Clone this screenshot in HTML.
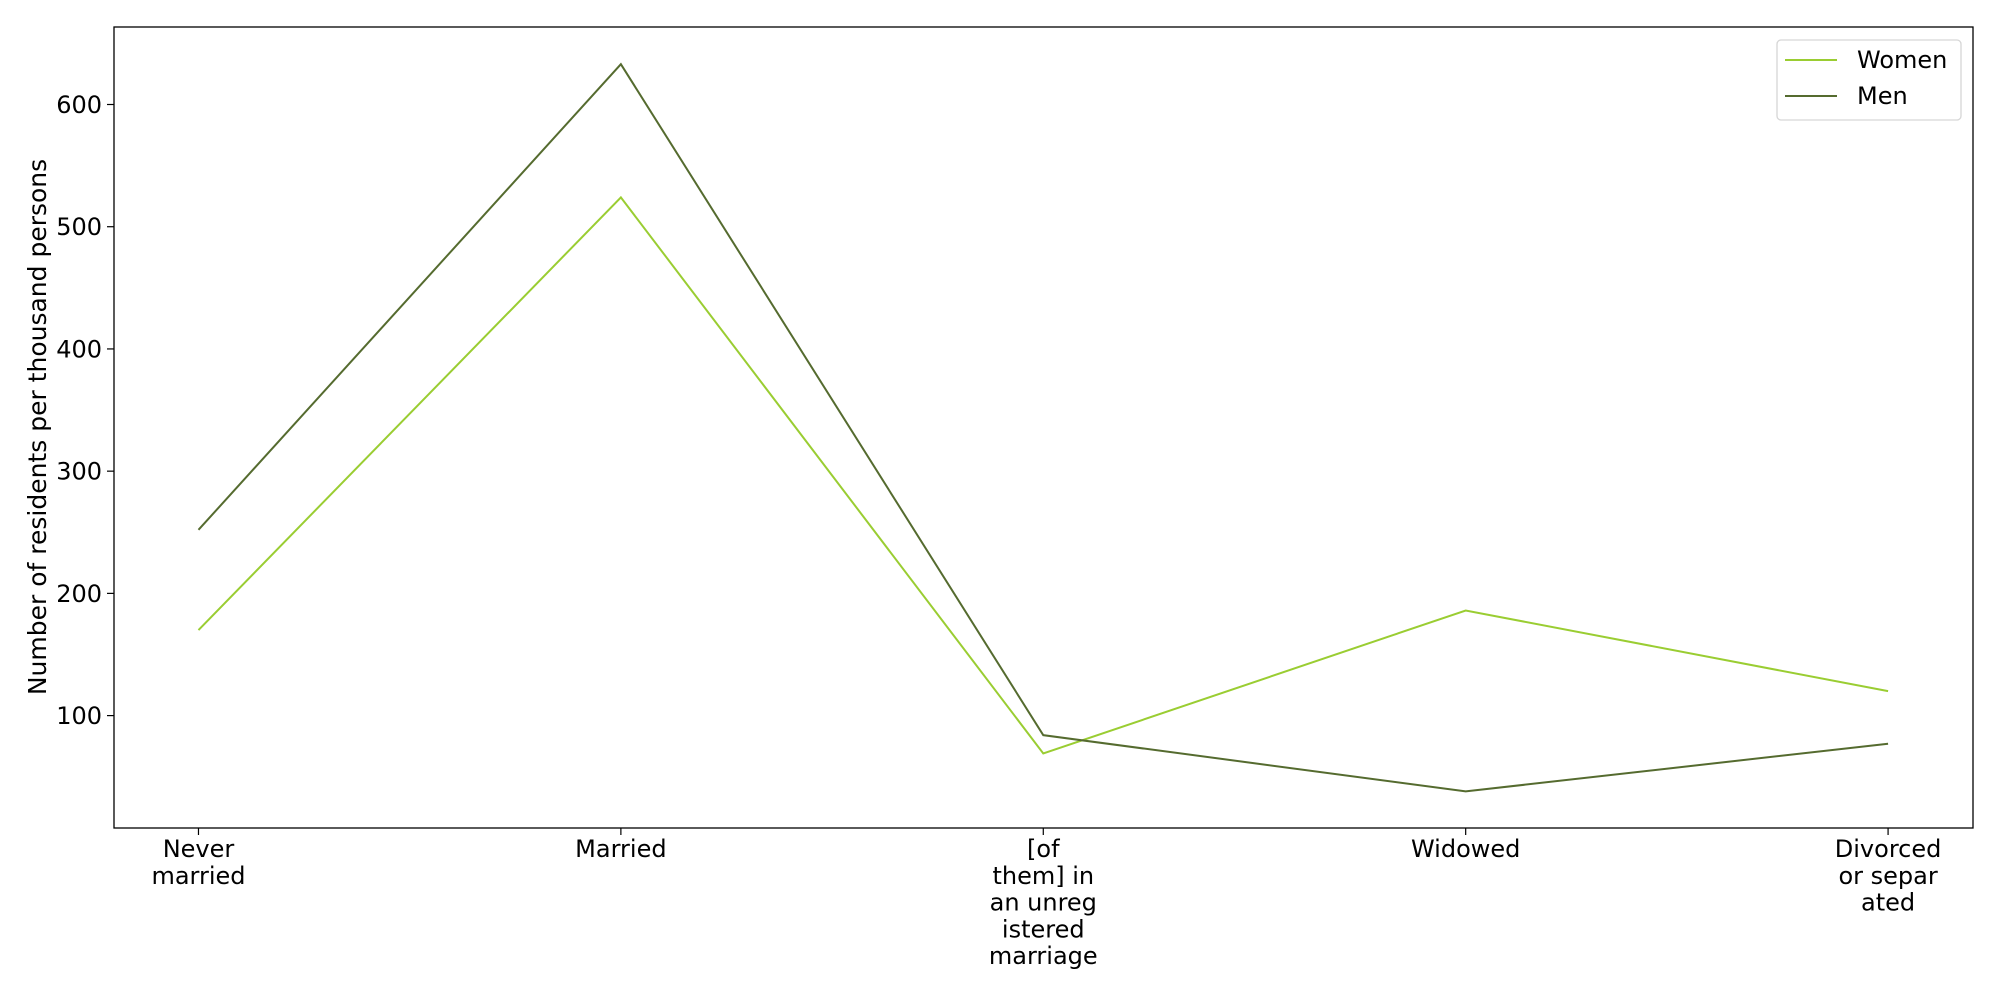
<!DOCTYPE html>
<html><head><meta charset="utf-8"><style>
html,body{margin:0;padding:0;background:#fff;}
svg{display:block;font-family:"DejaVu Sans","Liberation Sans",sans-serif;}
</style></head><body>
<svg id="chart" width="2000" height="1000" xmlns="http://www.w3.org/2000/svg">
<rect x="0" y="0" width="2000" height="1000" fill="#fff"/>
<path id="women-line" fill="none" stroke="#9acd32" stroke-width="2"/>
<path id="men-line" fill="none" stroke="#556b2f" stroke-width="2"/>
<rect x="114" y="27" width="1859" height="801" fill="none" stroke="#000" stroke-width="1.3"/>
<g id="yticks"></g>
<g id="xticks"></g>
<text transform="translate(46,427) rotate(-90)" text-anchor="middle" font-size="25">Number of residents per thousand persons</text>
<g>
<rect x="1777" y="40" width="184" height="80" rx="4" fill="#fff" stroke="#d6d6d6" stroke-width="1.3"/>
<g>
<line x1="1785" y1="60" x2="1837" y2="60" stroke="#9acd32" stroke-width="2"/>
<text x="1857" y="68" font-size="24">Women</text></g>
<g>
<line x1="1785" y1="96" x2="1837" y2="96" stroke="#556b2f" stroke-width="2"/>
<text x="1857" y="104" font-size="24">Men</text></g>
</g>
</svg>
<script>
const categories=[["Never","married"],["Married"],["[of","them] in","an unreg","istered","marriage"],["Widowed"],["Divorced","or separ","ated"]];
const women=[170,524,69,186,120];
const men=[252,633,84,38,77];
const yTicks=[100,200,300,400,500,600];
const NS="http://www.w3.org/2000/svg";
function xs(i){return 114+(i+0.2)*422.4;}
function ys(v){return 715.6-(v-100)*1.2222;}
function mk(t,a,p){const e=document.createElementNS(NS,t);for(const k in a)e.setAttribute(k,a[k]);p.appendChild(e);return e;}
function path(arr){return arr.map((v,i)=>(i?"L":"M")+xs(i)+","+ys(v)).join(" ");}
document.getElementById("women-line").setAttribute("d",path(women));
document.getElementById("men-line").setAttribute("d",path(men));
const yt=document.getElementById("yticks");
yTicks.forEach(v=>{
const g=mk("g",{},yt);


mk("line",{x1:107,x2:114,y1:ys(v),y2:ys(v),stroke:"#000","stroke-width":1.2},g);
const t=mk("text",{x:102,y:ys(v)+8.5,"text-anchor":"end","font-size":24},g);t.textContent=v;});
const xt=document.getElementById("xticks");
categories.forEach((c,i)=>{
const g=mk("g",{},xt);


mk("line",{x1:xs(i),x2:xs(i),y1:828,y2:835,stroke:"#000","stroke-width":1.2},g);
c.forEach((s,j)=>{const t=mk("text",{x:xs(i),y:857+j*26.8,"text-anchor":"middle","font-size":24},g);t.textContent=s;});});
</script>
</body></html>
